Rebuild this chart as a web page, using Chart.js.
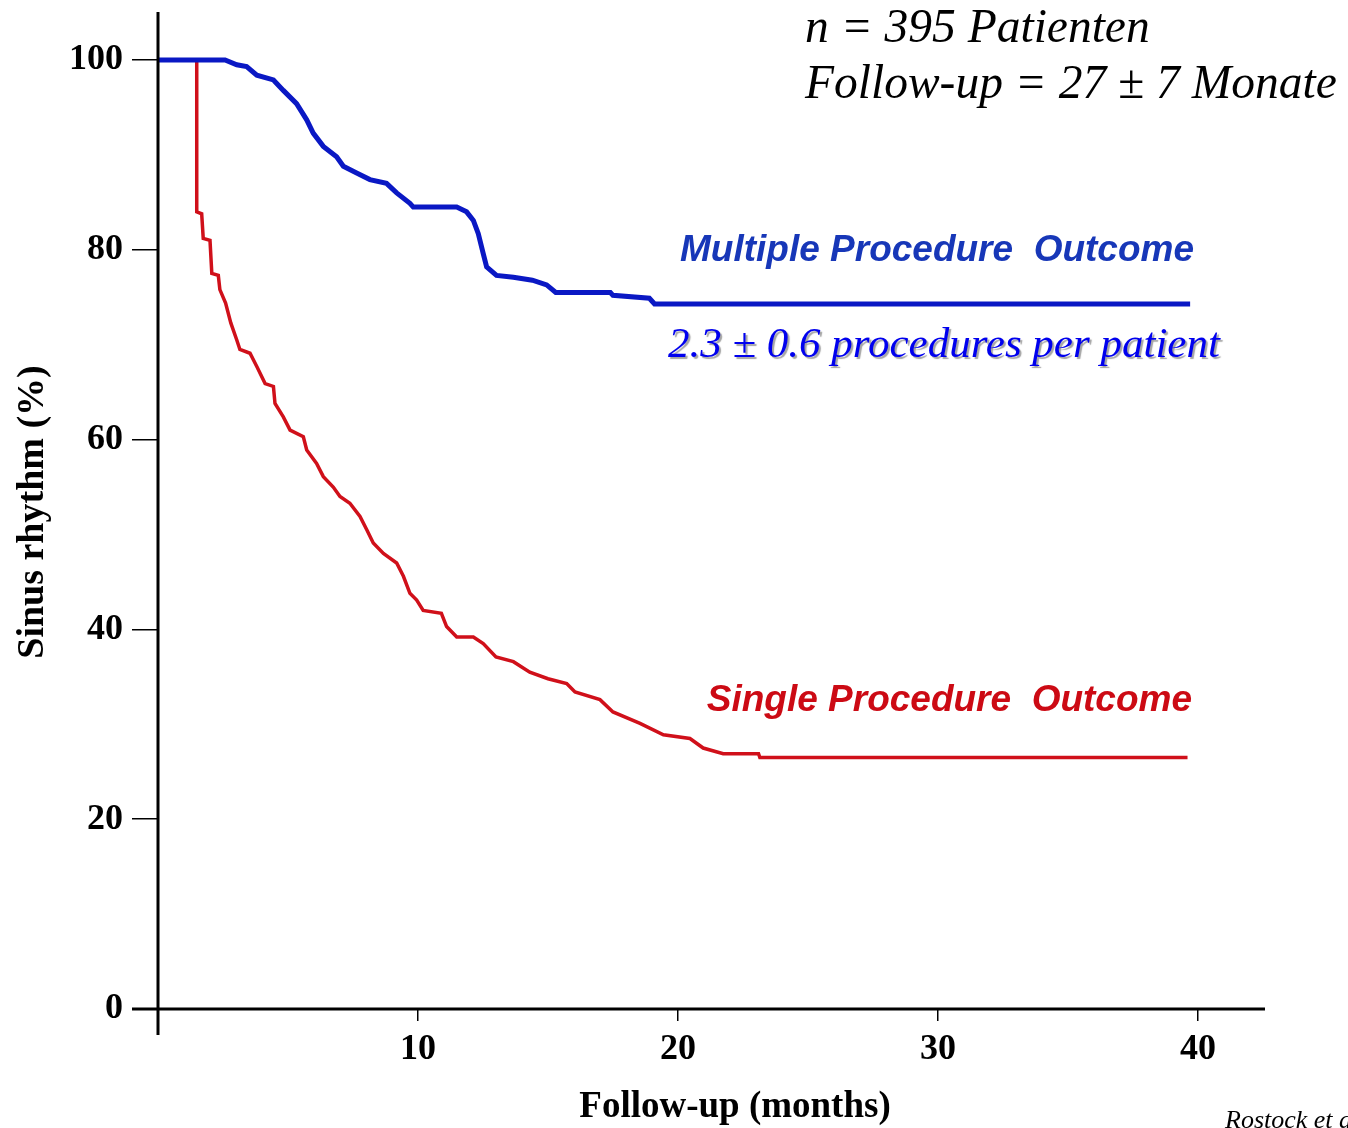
<!DOCTYPE html>
<html>
<head>
<meta charset="utf-8">
<script src="https://cdn.jsdelivr.net/npm/chart.js@4.4.1/dist/chart.umd.min.js"></script>
<style>
  html, body { margin: 0; padding: 0; background: #ffffff; }
  #wrap { width: 1348px; height: 1128px; position: relative; }
</style>
</head>
<body>
<div id="wrap"><canvas id="c" width="1348" height="1128"></canvas></div>
<script>
// ---- Data ----
const xTickValues = [10, 20, 30, 40];
const yTickValues = [0, 20, 40, 60, 80, 100];

// Multiple procedure outcome: curve corner points (months, % in sinus rhythm)
const multiMonths = [0, 2.58, 3.03, 3.41, 3.8, 4.44, 4.82, 5.33, 5.72, 5.97, 6.36, 6.87, 7.13, 7.64, 8.15, 8.79, 9.18, 9.69, 9.82, 11.49, 11.87, 12.13, 12.32, 12.51, 12.64, 13.02, 13.67, 14.4, 14.95, 15.3, 17.4, 17.5, 18.9, 19.1, 39.7];
const multiValues = [100, 100, 99.5, 99.3, 98.4, 97.9, 96.8, 95.4, 93.7, 92.3, 90.9, 89.8, 88.8, 88.1, 87.4, 87.0, 86.0, 84.9, 84.5, 84.5, 84.0, 83.1, 81.7, 79.6, 78.2, 77.3, 77.1, 76.8, 76.3, 75.5, 75.5, 75.2, 74.9, 74.3, 74.3];

// Single procedure outcome
const singleMonths = [0, 1.49, 1.49, 1.68, 1.74, 2.0, 2.07, 2.32, 2.38, 2.6, 2.8, 3.03, 3.15, 3.54, 3.8, 4.12, 4.44, 4.5, 4.82, 5.08, 5.59, 5.72, 6.1, 6.36, 6.74, 7.0, 7.38, 7.77, 8.03, 8.28, 8.67, 9.18, 9.44, 9.69, 9.95, 10.2, 10.9, 11.1, 11.49, 12.13, 12.51, 13.0, 13.67, 14.3, 15.0, 15.72, 16.04, 17.0, 17.5, 18.54, 19.44, 20.46, 20.97, 21.74, 23.1, 23.15, 39.6];
const singleValues = [100, 100, 84.0, 83.8, 81.2, 81.0, 77.5, 77.3, 75.8, 74.4, 72.3, 70.5, 69.5, 69.1, 67.7, 65.9, 65.6, 63.8, 62.4, 61.0, 60.3, 58.9, 57.5, 56.1, 55.0, 54.0, 53.3, 51.9, 50.5, 49.1, 48.0, 47.0, 45.6, 43.8, 43.1, 42.0, 41.7, 40.3, 39.2, 39.2, 38.5, 37.1, 36.6, 35.5, 34.8, 34.3, 33.4, 32.6, 31.3, 30.1, 28.9, 28.5, 27.5, 26.9, 26.9, 26.5, 26.5];

const xMin = 0, xMax = 42.58;
const yMin = 0, yMax = 105.06;

const toPoints = (xs, ys) => xs.map((x, i) => ({ x: x, y: ys[i] }));

const serifBold = '"Liberation Serif", "Times New Roman", serif';

const zeroPad = (s) => { s.paddingTop = 0; s.paddingBottom = 0; s.paddingLeft = 0; s.paddingRight = 0; };

const decorPlugin = {
  id: 'decor',
  afterDraw(chart) {
    const ctx = chart.ctx;
    const a = chart.chartArea;
    ctx.save();
    // axis lines
    ctx.strokeStyle = '#000';
    ctx.lineWidth = 3;
    ctx.beginPath();
    ctx.moveTo(a.left, a.top);
    ctx.lineTo(a.left, a.bottom + 26);
    ctx.stroke();
    ctx.beginPath();
    ctx.moveTo(a.left - 26, a.bottom);
    ctx.lineTo(a.right, a.bottom);
    ctx.stroke();

    // axis titles
    ctx.fillStyle = '#000';
    ctx.font = 'bold 37px ' + serifBold;
    ctx.textAlign = 'center';
    ctx.textBaseline = 'alphabetic';
    ctx.fillText('Follow-up (months)', 735, 1117);
    ctx.save();
    ctx.translate(43, 512);
    ctx.rotate(-Math.PI / 2);
    ctx.font = 'bold 38px ' + serifBold;
    ctx.fillText('Sinus rhythm (%)', 0, 0);
    ctx.restore();

    // top-right annotation
    ctx.textAlign = 'left';
    ctx.font = 'italic 47.5px ' + serifBold;
    ctx.fillText('n = 395 Patienten', 805, 42);
    ctx.fillText('Follow-up = 27 \u00B1 7 Monate', 805, 98);

    // series labels
    ctx.textAlign = 'right';
    ctx.font = 'bold italic 37px "Liberation Sans", Arial, sans-serif';
    ctx.fillStyle = '#1737b8';
    ctx.fillText('Multiple Procedure  Outcome', 1194, 261);
    ctx.fillStyle = '#cc0a14';
    ctx.fillText('Single Procedure  Outcome', 1192, 711);

    // procedures per patient with shadow
    ctx.textAlign = 'left';
    ctx.font = 'italic 43px ' + serifBold;
    ctx.save();
    ctx.shadowColor = 'rgba(90,90,90,0.55)';
    ctx.shadowOffsetX = 2;
    ctx.shadowOffsetY = 2;
    ctx.shadowBlur = 1;
    ctx.fillStyle = '#0000ee';
    ctx.fillText('2.3 \u00B1 0.6 procedures per patient', 668, 357);
    ctx.restore();

    // citation (cut off at the edge)
    ctx.fillStyle = '#000';
    ctx.font = 'italic 26px ' + serifBold;
    ctx.fillText('Rostock et al.', 1225, 1128);
    ctx.restore();
  }
};

const ctx = document.getElementById('c').getContext('2d');
new Chart(ctx, {
  type: 'line',
  data: {
    datasets: [
      {
        label: 'Multiple Procedure Outcome',
        data: toPoints(multiMonths, multiValues),
        borderColor: '#0a18c4',
        borderWidth: 5,
        tension: 0,
        pointRadius: 0,
        fill: false
      },
      {
        label: 'Single Procedure Outcome',
        data: toPoints(singleMonths, singleValues),
        borderColor: '#d0101a',
        borderWidth: 3.5,
        tension: 0,
        pointRadius: 0,
        fill: false
      }
    ]
  },
  options: {
    responsive: false,
    animation: false,
    devicePixelRatio: 1,
    layout: { padding: { left: 0, top: 12, right: 83, bottom: 0 } },
    plugins: { legend: { display: false }, tooltip: { enabled: false } },
    scales: {
      x: {
        type: 'linear',
        min: xMin,
        max: xMax,
        afterBuildTicks: (s) => { s.ticks = xTickValues.map(v => ({ value: v })); },
        afterFit: (s) => { s.height = 119; zeroPad(s); },
        border: { display: false },
        grid: { drawOnChartArea: false, drawTicks: true, tickLength: 12, color: '#000', lineWidth: 1.5 },
        ticks: { color: '#000', font: { family: serifBold, size: 36, weight: 'bold' }, padding: 7, maxRotation: 0, autoSkip: false }
      },
      y: {
        type: 'linear',
        min: yMin,
        max: yMax,
        afterBuildTicks: (s) => { s.ticks = yTickValues.map(v => ({ value: v })); },
        afterFit: (s) => { s.width = 158; zeroPad(s); },
        border: { display: false },
        grid: { drawOnChartArea: false, drawTicks: true, tickLength: 26, color: '#000', lineWidth: 1.5 },
        ticks: { color: '#000', font: { family: serifBold, size: 36, weight: 'bold' }, padding: 9, autoSkip: false }
      }
    }
  },
  plugins: [decorPlugin]
});
</script>
</body>
</html>
